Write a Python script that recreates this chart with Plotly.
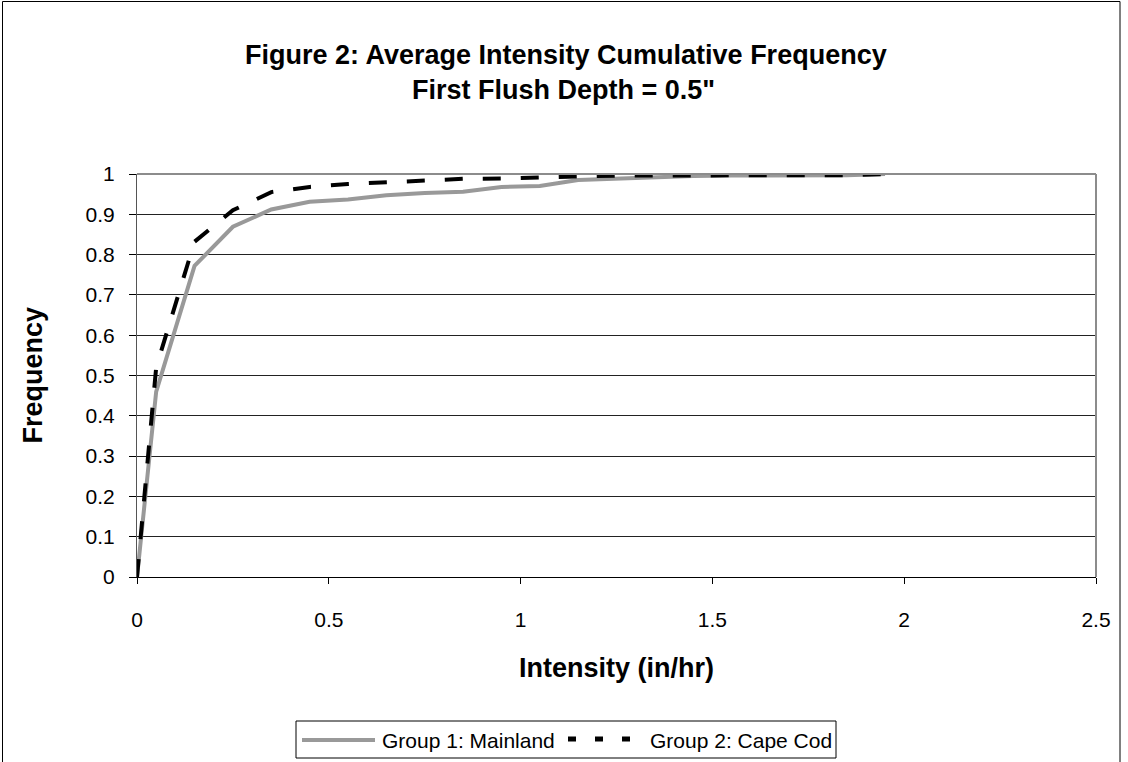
import plotly.graph_objects as go

# Intensity bins (in/hr) and cumulative frequency for each group
intensity = [0, 0.05, 0.15, 0.25, 0.35, 0.45, 0.55, 0.65, 0.75, 0.85, 0.95,
             1.05, 1.15, 1.25, 1.35, 1.45, 1.55, 1.65, 1.75, 1.85, 1.95]
mainland = [0, 0.46, 0.772, 0.869, 0.912, 0.931, 0.937, 0.947, 0.953, 0.956, 0.968,
            0.970, 0.985, 0.988, 0.993, 0.995, 0.996, 0.996, 0.997, 0.997, 1.0]
cape_cod = [0, 0.52, 0.832, 0.910, 0.955, 0.968, 0.975, 0.979, 0.985, 0.988, 0.989,
            0.991, 0.995, 0.996, 0.996, 0.997, 0.997, 0.997, 0.997, 0.997, 1.0]

series_names = ["Group 1: Mainland", "Group 2: Cape Cod"]

x_ticks = [0, 0.5, 1, 1.5, 2, 2.5]
x_tick_text = ["0", "0.5", "1", "1.5", "2", "2.5"]
y_ticks = [0, 0.1, 0.2, 0.3, 0.4, 0.5, 0.6, 0.7, 0.8, 0.9, 1]
y_tick_text = ["0", "0.1", "0.2", "0.3", "0.4", "0.5", "0.6", "0.7", "0.8", "0.9", "1"]

W, H = 1128, 762
L, R, T, B = 137, 32, 174, 185
PW, PH = W - L - R, H - T - B


def px(xp):
    """pixel column -> paper x"""
    return (xp - L) / PW


def py(yp):
    """pixel row -> paper y"""
    return (H - B - yp) / PH


FONT = "Liberation Sans, Arial, sans-serif"
GREY = "#999999"

fig = go.Figure()
fig.add_trace(go.Scatter(
    x=intensity, y=mainland, mode="lines", name=series_names[0],
    line=dict(color=GREY, width=4),
))
fig.add_trace(go.Scatter(
    x=intensity, y=cape_cod, mode="lines", name=series_names[1],
    line=dict(color="#000000", width=4, dash="18px,20px"),
))

# legend box drawn as shapes + text, Excel style (long line keys)
LEG_Y = 740
legend_shapes = [
    dict(type="rect", xref="paper", yref="paper",
         x0=px(296), x1=px(836), y0=py(721), y1=py(758),
         line=dict(color="black", width=1), fillcolor="white"),
    dict(type="line", xref="paper", yref="paper",
         x0=px(302), x1=px(375), y0=py(LEG_Y), y1=py(LEG_Y),
         line=dict(color=GREY, width=4)),
    dict(type="line", xref="paper", yref="paper",
         x0=px(568), x1=px(634), y0=py(LEG_Y - 1), y1=py(LEG_Y - 1),
         line=dict(color="black", width=5, dash="8px,19px")),
]
legend_text = [
    dict(text=series_names[0], xref="paper", yref="paper",
         x=px(380), y=py(LEG_Y), xanchor="left", yanchor="middle",
         showarrow=False, font=dict(family=FONT, size=21, color="black")),
    dict(text=series_names[1], xref="paper", yref="paper",
         x=px(648), y=py(LEG_Y), xanchor="left", yanchor="middle",
         showarrow=False, font=dict(family=FONT, size=21, color="black")),
]

fig.update_layout(
    width=W, height=H,
    margin=dict(l=L, r=R, t=T, b=B, autoexpand=False),
    paper_bgcolor="white", plot_bgcolor="white",
    font=dict(family=FONT, size=21, color="black"),
    showlegend=False,
    xaxis=dict(
        range=[0, 2.5], tickvals=x_ticks, ticktext=x_tick_text,
        showgrid=False, zeroline=False,
        showline=True, linecolor="black", linewidth=1,
        ticks="outside", ticklen=6, tickcolor="black", tickwidth=1,
        ticklabelstandoff=18,
        tickfont=dict(family=FONT, size=21, color="black"),
    ),
    yaxis=dict(
        range=[0, 1], tickvals=y_ticks, ticktext=y_tick_text,
        showgrid=True, gridcolor="#222222", gridwidth=1, zeroline=False,
        showline=True, linecolor="#555555", linewidth=1,
        ticks="outside", ticklen=7, tickcolor="black", tickwidth=1,
        ticklabelstandoff=10,
        tickfont=dict(family=FONT, size=21, color="black"),
    ),
    shapes=[
        # plot-area border (top and right edges)
        dict(type="line", xref="paper", yref="paper", x0=0, x1=1, y0=1, y1=1,
             line=dict(color="#8c8c8c", width=2)),
        dict(type="line", xref="paper", yref="paper", x0=1, x1=1, y0=0, y1=1,
             line=dict(color="#8c8c8c", width=2)),
        # chart-area border
        dict(type="rect", xref="paper", yref="paper",
             x0=px(2.5), x1=px(1120), y0=py(1.5), y1=py(800),
             line=dict(color="black", width=1), layer="below"),
    ] + legend_shapes,
    annotations=[
        dict(text="<b>Figure 2: Average Intensity Cumulative Frequency</b>",
             xref="paper", yref="paper", x=px(566), y=py(55),
             xanchor="center", yanchor="middle", showarrow=False,
             font=dict(family=FONT, size=27, color="black")),
        dict(text="<b>First Flush Depth = 0.5\"</b>",
             xref="paper", yref="paper", x=px(563), y=py(90),
             xanchor="center", yanchor="middle", showarrow=False,
             font=dict(family=FONT, size=27, color="black")),
        dict(text="<b>Intensity (in/hr)</b>",
             xref="paper", yref="paper", x=0.5, y=py(668),
             xanchor="center", yanchor="middle", showarrow=False,
             font=dict(family=FONT, size=27, color="black")),
        dict(text="<b>Frequency</b>", textangle=-90,
             xref="paper", yref="paper", x=px(32), y=0.5,
             xanchor="center", yanchor="middle", showarrow=False,
             font=dict(family=FONT, size=27, color="black")),
    ] + legend_text,
)

fig.write_html("out.html")
